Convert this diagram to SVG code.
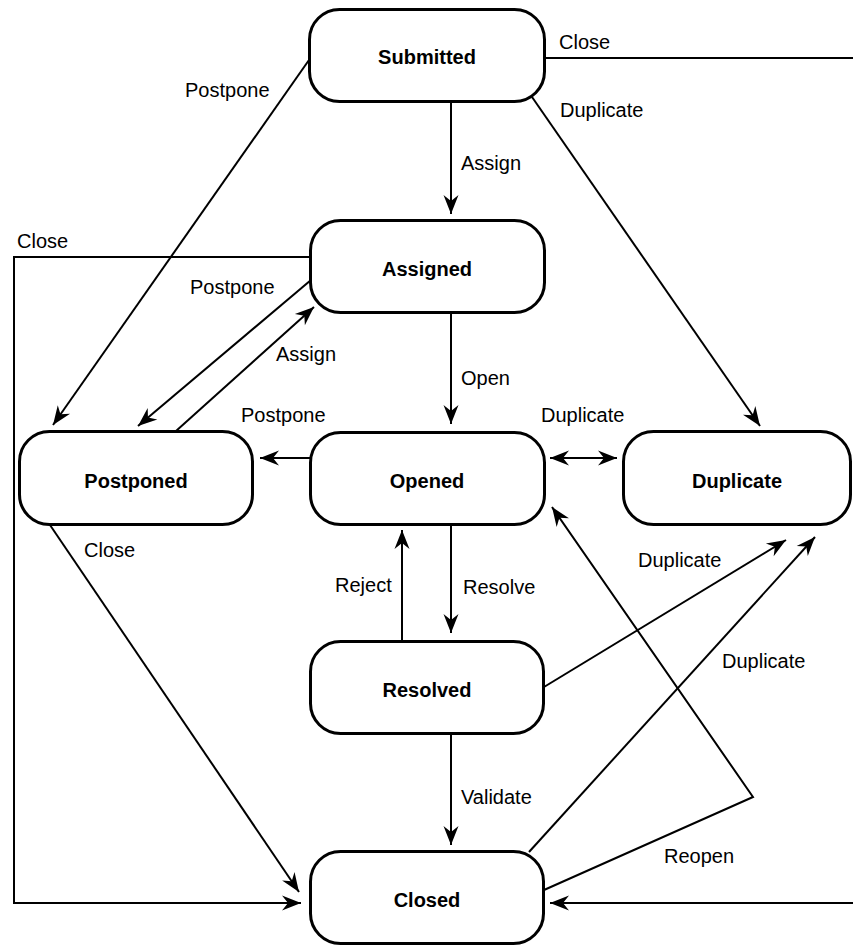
<svg xmlns="http://www.w3.org/2000/svg" width="853" height="946" viewBox="0 0 853 946">
<defs>
<marker id="arr" viewBox="-20 -8 21 16" refX="0" refY="0" markerWidth="21" markerHeight="16" markerUnits="userSpaceOnUse" orient="auto-start-reverse">
<path d="M0,0 L-19,-7.5 L-13,0 L-19,7.5 Z" fill="#000"/>
</marker>
<style>
.node rect{fill:#fff;stroke:#000;stroke-width:3}
.node text{font-family:"Liberation Sans",Arial,sans-serif;font-weight:bold;font-size:20px;text-anchor:middle;fill:#000}
.edge{fill:none;stroke:#000;stroke-width:2}
.lbl{font-family:"Liberation Sans",Arial,sans-serif;font-size:20px;fill:#000}
</style>
</defs>
<rect width="853" height="946" fill="#fff"/>
<g id="connectors">
<path class="edge" d="M451,102 L451,214" marker-end="url(#arr)"/>
<path class="edge" d="M451,313 L451,424" marker-end="url(#arr)"/>
<path class="edge" d="M451,525 L451,633" marker-end="url(#arr)"/>
<path class="edge" d="M402,641 L402,530" marker-end="url(#arr)"/>
<path class="edge" d="M451,734 L451,845" marker-end="url(#arr)"/>
<path class="edge" d="M310,458 L260,458" marker-end="url(#arr)"/>
<path class="edge" d="M550,458 L617,458" marker-start="url(#arr)" marker-end="url(#arr)"/>
<path class="edge" d="M309,60 L53,425" marker-end="url(#arr)"/>
<path class="edge" d="M532,97 L760,426" marker-end="url(#arr)"/>
<path class="edge" d="M544,58 H860 V903 H550" marker-end="url(#arr)"/>
<path class="edge" d="M310,257 H14 V903 H301" marker-end="url(#arr)"/>
<path class="edge" d="M311,280 L138,426" marker-end="url(#arr)"/>
<path class="edge" d="M176,431 L314,307" marker-end="url(#arr)"/>
<path class="edge" d="M50,525 L299,892" marker-end="url(#arr)"/>
<path class="edge" d="M544,687 L786,540" marker-end="url(#arr)"/>
<path class="edge" d="M529,852 L815,537" marker-end="url(#arr)"/>
<path class="edge" d="M544,890 L753,797 L552,507" marker-end="url(#arr)"/>
<text class="lbl" x="461" y="170">Assign</text>
<text class="lbl" x="461" y="385">Open</text>
<text class="lbl" x="463" y="594">Resolve</text>
<text class="lbl" x="335" y="592">Reject</text>
<text class="lbl" x="461" y="804">Validate</text>
<text class="lbl" x="241" y="422">Postpone</text>
<text class="lbl" x="541" y="422">Duplicate</text>
<text class="lbl" x="185" y="97">Postpone</text>
<text class="lbl" x="560" y="117">Duplicate</text>
<text class="lbl" x="559" y="49">Close</text>
<text class="lbl" x="17" y="248">Close</text>
<text class="lbl" x="190" y="294">Postpone</text>
<text class="lbl" x="276" y="361">Assign</text>
<text class="lbl" x="84" y="557">Close</text>
<text class="lbl" x="638" y="567">Duplicate</text>
<text class="lbl" x="722" y="668">Duplicate</text>
<text class="lbl" x="664" y="863">Reopen</text>
</g>
<g id="submitted" class="node"><rect x="309.5" y="9.5" width="235" height="92" rx="30"/><text x="427" y="64">Submitted</text></g>
<g id="assigned" class="node"><rect x="310.5" y="220.5" width="234" height="92" rx="30"/><text x="427" y="276">Assigned</text></g>
<g id="opened" class="node"><rect x="310.5" y="432.5" width="234" height="92" rx="30"/><text x="427" y="488">Opened</text></g>
<g id="postponed" class="node"><rect x="19.5" y="431.5" width="233" height="93" rx="30"/><text x="136" y="488">Postponed</text></g>
<g id="duplicate" class="node"><rect x="623.5" y="431.5" width="227" height="93" rx="30"/><text x="737" y="488">Duplicate</text></g>
<g id="resolved" class="node"><rect x="310.5" y="641.5" width="233" height="92" rx="30"/><text x="427" y="697">Resolved</text></g>
<g id="closed" class="node"><rect x="310.5" y="851.5" width="233" height="92" rx="30"/><text x="427" y="907">Closed</text></g>
</svg>
